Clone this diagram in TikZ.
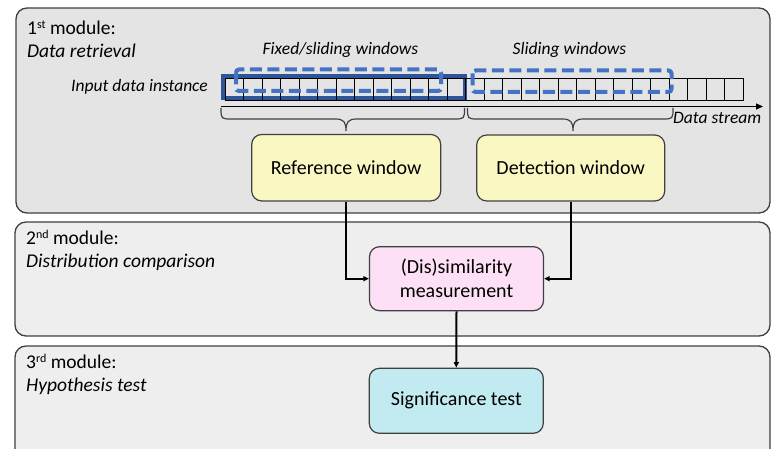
\documentclass[tikz,border=0pt]{standalone}
\usepackage{fontspec}
\setmainfont{Carlito}
\usetikzlibrary{arrows.meta}

\definecolor{modA}{HTML}{E4E4E4}
\definecolor{modB}{HTML}{EEEEEE}
\definecolor{frame}{HTML}{404040}
\definecolor{winblue}{HTML}{2F5597}
\definecolor{dashblue}{HTML}{4472C4}
\definecolor{refyellow}{HTML}{FAF8C2}
\definecolor{dispink}{HTML}{FDE0F5}
\definecolor{sigcyan}{HTML}{C1EBF0}

% small raised ordinal suffix
\newcommand{\ordsuf}[1]{\raisebox{0.62ex}{\fontsize{12}{12}\selectfont #1}}

\begin{document}
\begin{tikzpicture}[x=1pt,y=-1pt,
  module/.style={draw=frame, line width=1.3pt, rounded corners=11pt},
  modlabel/.style={anchor=base west, inner sep=0pt, font=\fontsize{19.5}{22}\selectfont},
  smalllabel/.style={inner sep=0pt, font=\fontsize{17.5}{20}\selectfont\itshape},
  procbox/.style={draw=frame, line width=1.2pt, rounded corners=10pt, align=center,
                  font=\fontsize{20}{24}\selectfont, inner sep=0pt},
  link/.style={line width=2pt, -{Triangle[length=5.5pt,width=5pt]}},
  cell/.style={draw=black, line width=0.9pt},
  winframe/.style={draw=winblue, line width=3.6pt},
  slidebox/.style={draw=dashblue, line width=4pt, rounded corners=3pt,
                   dash pattern=on 12pt off 5.5pt},
  bracepath/.style={draw=frame, line width=1.2pt},
  axis/.style={draw=black, line width=1.3pt, -{Triangle[length=7pt,width=6pt]}}
]
\useasboundingbox (0,0) rectangle (771,449);
\clip (0,0) rectangle (771,449);
\fill[white] (0,0) rectangle (771,449);

% three module panels
\draw[module, fill=modA] (16,8) rectangle (770,213);
\draw[module, fill=modB] (15,222) rectangle (770,336);
\draw[module, fill=modB] (15,346) rectangle (770,480);

% panel headings
\node[modlabel] (m1a) at (27,34.5) {1\ordsuf{st} module:};
\node[modlabel] (m1b) at (27,58) {\itshape Data retrieval};
\node[modlabel] (m2a) at (26,244.5) {2\ordsuf{nd} module:};
\node[modlabel] (m2b) at (26,267) {\itshape Distribution comparison};
\node[modlabel] (m3a) at (26,368.5) {3\ordsuf{rd} module:};
\node[modlabel] (m3b) at (26,391.5) {\itshape Hypothesis test};

% data stream: reference frame, cells, sliding windows
\draw[winframe] (222.8,76) rectangle (464.8,98.3);
\foreach \i in {0,...,27}
  \draw[cell] ({225+18.51*\i},78.5) rectangle ++(18.51,22);
\draw[slidebox] (236,69.5) rectangle (441,91);
\draw[slidebox] (472.5,70.5) rectangle (671.5,92);

\coordinate (streamstart) at (221,106.5);
\coordinate (streamend) at (763,106.5);
\draw[axis] (streamstart) -- (streamend);

\node[smalllabel, anchor=base] (fixlab) at (340.5,54.3) {Fixed/sliding windows};
\node[smalllabel, anchor=base] (slidelab) at (569.5,54.3) {Sliding windows};
\node[smalllabel, anchor=base east] (inlab) at (208,91.7) {Input data instance};
\node[smalllabel, anchor=base west] (streamlab) at (673,123.3) {Data stream};

% braces under the two window groups
\draw[bracepath] (221,108) .. controls (221,119) and (221,119) .. (232,119)
  -- (335,119) .. controls (344,119) and (346,122) .. (346,131)
  .. controls (346,122) and (348,119) .. (357,119)
  -- (453.5,119) .. controls (464.5,119) and (464.5,119) .. (464.5,108);
\draw[bracepath] (467.5,108) .. controls (467.5,119) and (467.5,119) .. (478.5,119)
  -- (562,119) .. controls (571,119) and (573,122) .. (573,131)
  .. controls (573,122) and (575,119) .. (584,119)
  -- (662,119) .. controls (673,119) and (673,119) .. (673,108);

% processing boxes
\node[procbox, fill=refyellow, minimum width=189pt, minimum height=66.5pt]
  (ref) at (346.2,167.7) {Reference window};
\node[procbox, fill=refyellow, minimum width=188pt, minimum height=66pt]
  (det) at (570.7,168) {Detection window};
\node[procbox, fill=dispink, minimum width=174pt, minimum height=64pt]
  (dis) at (456.5,278.7) {(Dis)similarity\\measurement};
\node[procbox, fill=sigcyan, minimum width=174pt, minimum height=65pt]
  (sig) at (456.3,400.8) {Significance test};

% connectors
\draw[link] (ref.south) |- (dis.west);
\draw[link] (det.south) |- (dis.east);
\draw[link] (dis.south) -- (sig.north);
\end{tikzpicture}
\end{document}
